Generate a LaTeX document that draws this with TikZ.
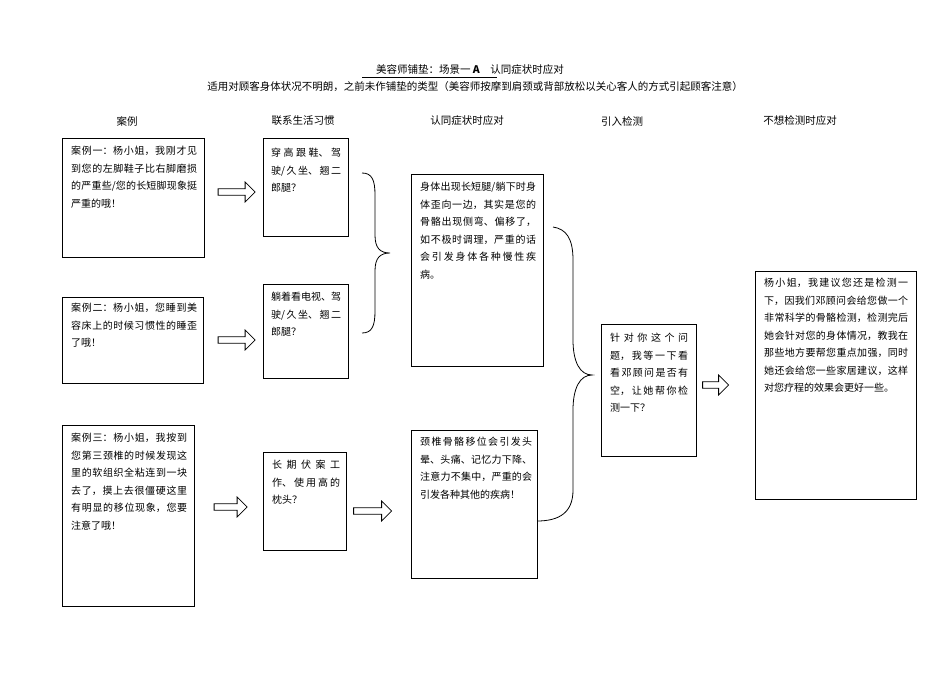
\documentclass[tikz,border=0pt]{standalone}
\usepackage{fontspec}
\setmainfont{Noto Sans CJK SC}
\usetikzlibrary{shapes.arrows}
\XeTeXlinebreaklocale "zh"
\XeTeXlinebreakskip=0pt plus 1pt
\begin{document}
\begin{tikzpicture}[x=1pt,y=-1pt,
  box/.style={draw,thick,anchor=north west,inner sep=0pt},
  txt/.style={anchor=north west,align=justify,font=\fontsize{10}{17.5}\selectfont,inner sep=0pt},
  barrow/.style={draw,single arrow,single arrow head extend=5pt,minimum height=#1,minimum width=20pt,inner sep=2pt,thick},
  hdr/.style={font=\fontsize{10.5}{12}\selectfont},
  brace/.style={thick}]
\useasboundingbox (0,0) rectangle (950,672);
% titles
\node[hdr] (title) at (470,70) {美容师铺垫：场景一 \textbf{A}\quad 认同症状时应对};
\draw (362,77) -- (497,77);
\node[hdr] (sub) at (475,87) {适用对顾客身体状况不明朗，之前未作铺垫的类型（美容师按摩到肩颈或背部放松以关心客人的方式引起顾客注意）};
\node[hdr] (h1) at (127,121) {案例};
\node[hdr] (h2) at (303,121) {联系生活习惯};
\node[hdr] (h3) at (467,121) {认同症状时应对};
\node[hdr] (h4) at (622,121) {引入检测};
\node[hdr] (h5) at (800,121) {不想检测时应对};
% boxes
\draw[box] (62,138) rectangle (204,257);
\node[txt,text width=126pt] (c1) at (71,146) {案例一：杨小姐，我刚才见到您的左脚鞋子比右脚磨损的严重些/您的长短脚现象挺严重的哦！};
\draw[box] (62,297) rectangle (203,383);
\node[txt,text width=126pt] (c2) at (71,303) {案例二：杨小姐，您睡到美容床上的时候习惯性的睡歪了哦！};
\draw[box] (62,425) rectangle (194,606);
\node[txt,text width=116pt] (c3) at (71,433) {案例三：杨小姐，我按到您第三颈椎的时候发现这里的软组织全粘连到一块去了，摸上去很僵硬这里有明显的移位现象，您要注意了哦！};
\draw[box] (263,138) rectangle (348,236);
\node[txt,text width=70pt] (b1) at (271,148) {穿高跟鞋、驾驶/久坐、翘二郎腿？};
\draw[box] (263,284) rectangle (348,378);
\node[txt,text width=70pt] (b2) at (271,292) {躺着看电视、驾驶/久坐、翘二郎腿？};
\draw[box] (263,452) rectangle (346,550);
\node[txt,text width=68pt] (b3) at (272,460) {长期伏案工作、使用高的枕头？};
\draw[box] (411,174) rectangle (543,366);
\node[txt,text width=116pt] (s1) at (420,182) {身体出现长短腿/躺下时身体歪向一边，其实是您的骨骼出现侧弯、偏移了，如不极时调理，严重的话会引发身体各种慢性疾病。};
\draw[box] (411,430) rectangle (537,578);
\node[txt,text width=112pt] (s2) at (420,437) {颈椎骨骼移位会引发头晕、头痛、记忆力下降、注意力不集中，严重的会引发各种其他的疾病！};
\draw[box] (601,324) rectangle (696,456);
\node[txt,text width=78pt] (k) at (610,333) {针对你这个问题，我等一下看看邓顾问是否有空，让她帮你检测一下？};
\draw[box] (755,271) rectangle (916,499);
\node[txt,text width=144pt] (f) at (764,278) {杨小姐，我建议您还是检测一下，因我们邓顾问会给您做一个非常科学的骨骼检测，检测完后她会针对您的身体情况，教我在那些地方要帮您重点加强，同时她还会给您一些家居建议，这样对您疗程的效果会更好一些。};
% arrows
\node[barrow=37pt] (a1) at (235,192) {};
\node[barrow=37pt] (a2) at (235,340) {};
\node[barrow=33pt] (a3) at (229,507) {};
\node[barrow=38pt] (a4) at (371,511) {};
\node[barrow=26pt] (a5) at (714,385) {};
% braces
\coordinate (br1t) at (362,173);
\coordinate (br1m) at (390,253);
\coordinate (br1b) at (362,333);
\draw[brace] (br1t) .. controls (372,173) and (375,180) .. (375,195) -- (375,235)
  .. controls (375,248) and (380,253) .. (br1m)
  .. controls (380,253) and (375,258) .. (375,271) -- (375,311)
  .. controls (375,326) and (372,333) .. (br1b);
\coordinate (br2t) at (553,227);
\coordinate (br2m) at (592,375);
\coordinate (br2b) at (537,521);
\draw[brace] (br2t) .. controls (566,229) and (573,238) .. (573,260) -- (573,340)
  .. controls (573,362) and (580,375) .. (br2m)
  .. controls (580,375) and (573,388) .. (573,410) -- (573,490)
  .. controls (573,512) and (560,521) .. (br2b);
\end{tikzpicture}
\end{document}
